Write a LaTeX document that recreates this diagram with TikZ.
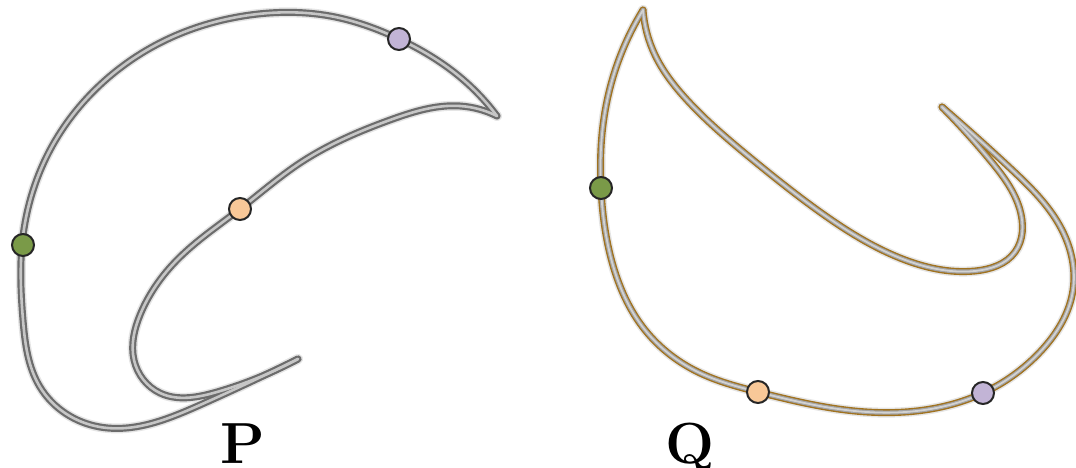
\documentclass[tikz,border=0pt]{standalone}
\usetikzlibrary{hobby}
\begin{document}
\begin{tikzpicture}[x=1pt,y=-1pt,
  halo/.style={draw=gray!20,line width=10pt,line cap=round,line join=round},
  tubeP/.style={draw=gray!85!black,line width=7pt,line cap=round,line join=round},
  coreP/.style={draw=gray!45,line width=2.6pt,line cap=round,line join=round},
  brownQ/.style={draw=qbrown,line width=7pt,line cap=round,line join=round},
  tubeQ/.style={draw=gray!72,line width=4.2pt,line cap=round,line join=round},
  coreQ/.style={draw=gray!35,line width=1.8pt,line cap=round,line join=round},
  pt/.style={circle,draw=black!85,line width=2pt,minimum size=22pt,inner sep=0pt},
  lbl/.style={font=\fontsize{58}{60}\selectfont\bfseries,anchor=base,inner sep=0pt}]
\definecolor{qbrown}{HTML}{A0721F}
\definecolor{pgreen}{HTML}{7A9A48}
\definecolor{porange}{HTML}{F8C898}
\definecolor{ppurple}{HTML}{C2B4D6}
\useasboundingbox (0,0) rectangle (1076,468);
% ---------- P ----------
\foreach \s in {halo,tubeP,coreP}{
  \path[\s,use Hobby shortcut] (298,359) .. (200,405) .. (100,427) .. (40,387) .. (23,320) .. (22,245) .. (50,150) .. (100,85) .. (170,38) .. (250,15) .. (330,16) .. (399,39) .. (460,77) .. (497,116);
  \path[\s,use Hobby shortcut] (497,116) .. (460,106) .. (390,120) .. (300,163) .. (240,209) .. (177,260) .. (140,315) .. (134,360) .. (160,393) .. (217,392) .. (298,359);
}
% ---------- Q ----------
\foreach \s in {halo,brownQ,tubeQ,coreQ}{
  \path[\s,use Hobby shortcut] (643,10) .. (618,62) .. (603,125) .. (601,188) .. (612,262) .. (645,330) .. (700,373) .. (758,392) .. (867,412) .. (983,393) .. (1040,352) .. (1073,290) .. (1062,230) .. (1010,168) .. (942,107);
  \path[\s,use Hobby shortcut] (942,107) .. (990,160) .. (1020,210) .. (1015,252) .. (975,271) .. (900,258) .. (820,212) .. (753,160) .. (687,100) .. (655,55) .. (643,10);
}
% ---------- points ----------
\node[pt,fill=pgreen]  (pg) at (23,245) {};
\node[pt,fill=porange] (po) at (240,209) {};
\node[pt,fill=ppurple] (pp) at (399,39) {};
\node[pt,fill=pgreen]  (qg) at (601,188) {};
\node[pt,fill=porange] (qo) at (758,392) {};
\node[pt,fill=ppurple] (qp) at (983,393) {};
% ---------- labels ----------
\node[lbl] (lp) at (243,463) {P};
\node[lbl] (lq) at (690,463) {Q};
\end{tikzpicture}
\end{document}
